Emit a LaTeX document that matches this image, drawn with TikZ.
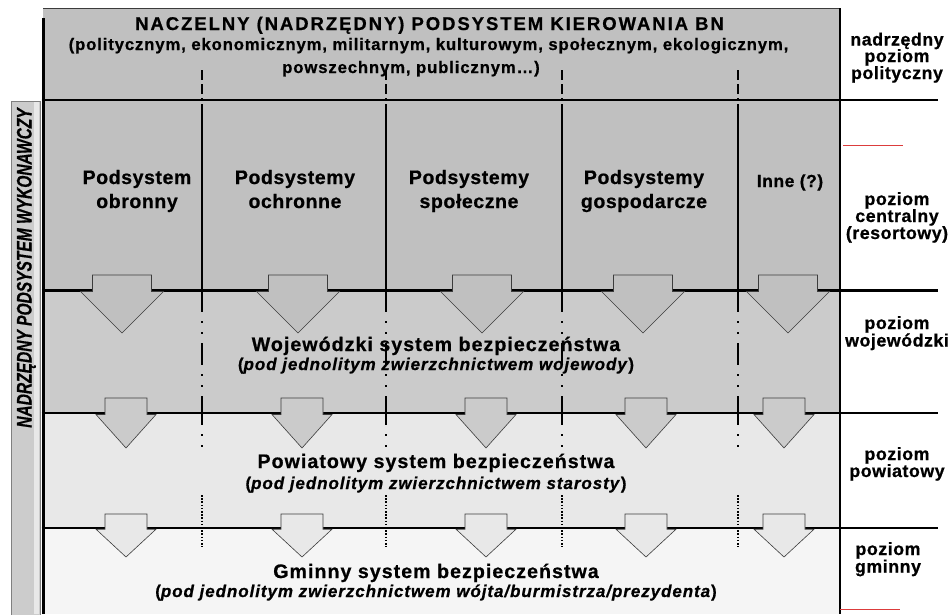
\documentclass[tikz,border=0pt]{standalone}
\usepackage{fontspec}
\usepackage{graphicx}
\setmainfont{Liberation Sans}[BoldFeatures={FakeBold=0.7}, BoldItalicFeatures={FakeBold=0.7}]
\newfontfamily\fTitle{Liberation Sans}[LetterSpace=10.5, BoldFeatures={FakeBold=0.7}]
\newfontfamily\fSub{Liberation Sans}[LetterSpace=5.2, BoldFeatures={FakeBold=0.7}]
\newfontfamily\fHead{Liberation Sans}[LetterSpace=3, BoldFeatures={FakeBold=0.7}]
\newfontfamily\fLevel{Liberation Sans}[LetterSpace=5.3, BoldFeatures={FakeBold=0.7}]
\newfontfamily\fItal{Liberation Sans}[LetterSpace=5.5, BoldFeatures={FakeBold=0.7}, BoldItalicFeatures={FakeBold=0.7}]
\newfontfamily\fRight{Liberation Sans}[LetterSpace=3, BoldFeatures={FakeBold=0.7}]
\newcommand\tf[2]{\fontsize{#1}{#2}\selectfont}
\definecolor{gC}{RGB}{192,192,192}
\definecolor{gW}{RGB}{203,203,203}
\definecolor{gP}{RGB}{232,232,232}
\definecolor{gG}{RGB}{245,245,245}
\definecolor{barfill}{RGB}{204,204,204}
\definecolor{barlite}{RGB}{232,232,232}
\definecolor{bardraw}{RGB}{128,128,128}
\definecolor{arrdraw}{RGB}{60,60,60}
\definecolor{redline}{RGB}{220,60,60}
\tikzset{
  divline/.style={line width=2pt, black},
  arrowline/.style={draw=arrdraw, line width=0.6pt, line join=miter},
  txt/.style={anchor=base, inner sep=0pt, text=black},
  ttl/.style={txt, font=\fTitle\bfseries\tf{18.5}{20}},
  sub/.style={txt, font=\fSub\bfseries\tf{16.7}{19}},
  head/.style={txt, font=\fHead\bfseries\tf{19.5}{22}},
  lev/.style={txt, font=\fLevel\bfseries\tf{19.6}{22}},
  ital/.style={txt, font=\fItal\bfseries\tf{17}{19}},
  rlab/.style={txt, font=\fRight\bfseries\tf{17.8}{19}},
}
\newcommand\darr[7]{\filldraw[arrowline, fill=#7] (#1-#4,#2) -- (#1+#4,#2) -- (#1+#4,#3) -- (#1+#5,#3) -- (#1,#6) -- (#1-#5,#3) -- (#1-#4,#3) -- cycle;}
\begin{document}
\begin{tikzpicture}[x=1pt,y=-1pt]
\useasboundingbox (0,0) rectangle (950,614);
% level fills
\fill[gC] (43,8) rectangle (840,290);
\fill[gW] (43,290) rectangle (840,413);
\fill[gP] (43,413) rectangle (840,528);
\fill[gG] (43,528) rectangle (840,614);
% left vertical bar
\filldraw[fill=barfill, draw=bardraw, line width=0.8pt] (11,101) rectangle (40,616);
\fill[barlite] (34,102) rectangle (39.4,614);
% top border
\draw[line width=1pt, arrdraw] (43,8) -- (840,8);
% column dividers
\foreach \x in {202,386,562,738} {
  \draw[divline, dash pattern=on 10pt off 4pt] (\x,70) -- (\x,100);
  \draw[divline] (\x,104) -- (\x,290);
  \draw[divline, dash pattern=on 22pt off 9pt on 2pt off 9pt on 2pt off 9pt] (\x,290) -- (\x,413);
  \draw[divline, dash pattern=on 12pt off 9pt on 2pt off 9pt on 2pt off 40pt] (\x,413) -- (\x,455);
  \draw[divline, dash pattern=on 1.6pt off 1.6pt] (\x,495) -- (\x,547);
}
% level boundaries
\draw[line width=2.5pt] (41.5,100) -- (938,100);
\draw[line width=3pt] (41.5,290) -- (938,290);
\draw[line width=2.5pt] (41.5,413) -- (938,413);
\draw[line width=2pt] (41.5,528) -- (938,528);
\draw[line width=3pt] (43,18) -- (43,614);
\draw[line width=2.5pt] (840,8) -- (840,614);
% red marks
\draw[redline, line width=1pt] (843,145) -- (903,145);
\draw[redline, line width=1pt] (840,609) -- (900,609);
% arrows
\foreach \c in {122,298,482,643,788} { \darr{\c}{275}{291.5}{29.5}{41.5}{333}{gC} }
\foreach \c in {126,302,486,646,784} { \darr{\c}{398}{414.5}{21}{30}{448}{gW} }
\foreach \c in {126,302,486,646,784} { \darr{\c}{514}{529.2}{21}{30}{557}{gP} }
% top texts
\node[ttl] (t1) at (429.5,30) {NACZELNY (NADRZĘDNY) PODSYSTEM KIEROWANIA BN};
\node[sub] (t2) at (428.5,50) {(politycznym, ekonomicznym, militarnym, kulturowym, społecznym, ekologicznym,};
\node[sub] (t3) at (411,73) {powszechnym, publicznym…)};
% column headers
\node[head] (c1a) at (137,184) {Podsystem};
\node[head] (c1b) at (137,208) {obronny};
\node[head] (c2a) at (295,184) {Podsystemy};
\node[head] (c2b) at (295,208) {ochronne};
\node[head] (c3a) at (469,184) {Podsystemy};
\node[head] (c3b) at (469,208) {społeczne};
\node[head] (c4a) at (644,184) {Podsystemy};
\node[head] (c4b) at (644,208) {gospodarcze};
\node[head, font=\fHead\bfseries\tf{17.5}{20}] (c5) at (790,187) {Inne (?)};
% level texts
\node[lev] (w1) at (436,351) {Wojewódzki system bezpieczeństwa};
\node[ital] (w2) at (436,370) {(\textit{pod jednolitym zwierzchnictwem wojewody})};
\node[lev] (p1) at (436,468) {Powiatowy system bezpieczeństwa};
\node[ital] (p2) at (436,489) {(\textit{pod jednolitym zwierzchnictwem starosty})};
\node[lev] (g1) at (436,578) {Gminny system bezpieczeństwa};
\node[ital] (g2) at (436,597) {(\textit{pod jednolitym zwierzchnictwem wójta/burmistrza/prezydenta})};
% right labels
\node[rlab] (r1a) at (897,45.5) {nadrzędny};
\node[rlab] (r1b) at (897,62) {poziom};
\node[rlab] (r1c) at (897,79) {polityczny};
\node[rlab] (r2a) at (897,205) {poziom};
\node[rlab] (r2b) at (897,222) {centralny};
\node[rlab] (r2c) at (897,239) {(resortowy)};
\node[rlab] (r3a) at (897,329) {poziom};
\node[rlab] (r3b) at (897,346.5) {wojewódzki};
\node[rlab] (r4a) at (897,460) {poziom};
\node[rlab] (r4b) at (897,477) {powiatowy};
\node[rlab] (r5a) at (888,555) {poziom};
\node[rlab] (r5b) at (888,572.5) {gminny};
% vertical label
\node[txt, rotate=90] (vt) at (31.5,268) {\scalebox{0.74}[1]{\bfseries\itshape\tf{21}{23}NADRZĘDNY PODSYSTEM WYKONAWCZY}};
\end{tikzpicture}
\end{document}
